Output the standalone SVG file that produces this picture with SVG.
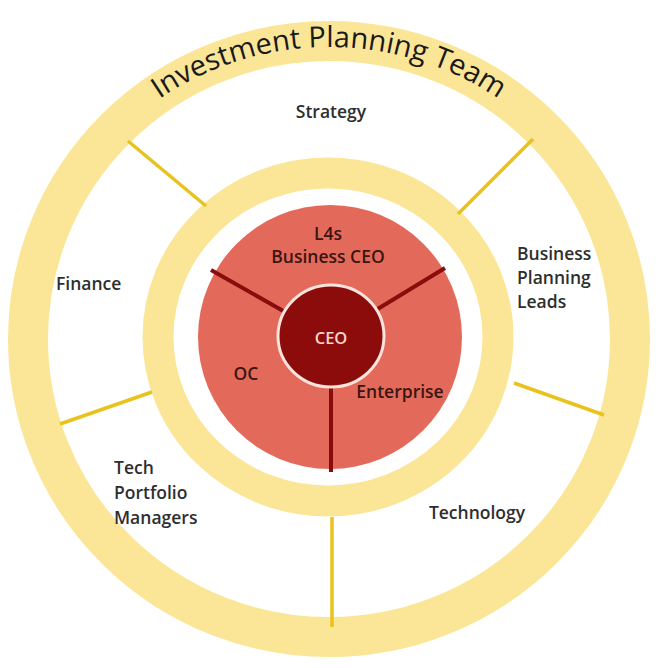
<svg xmlns="http://www.w3.org/2000/svg" width="668" height="668" viewBox="0 0 668 668">
<style>
.lbl{font-family:"Open Sans","Noto Sans","Liberation Sans",sans-serif;font-size:17.5px;font-weight:600;fill:#2e2e2e;}
.inner{font-family:"Open Sans","Noto Sans","Liberation Sans",sans-serif;font-size:17.5px;font-weight:600;fill:#3a1512;}
.ring{fill:none;stroke:#fbe697;}
.yl{stroke:#e9c21c;stroke-width:3.5;stroke-linecap:butt;}
.rl{stroke:#8a0c0c;stroke-width:4;}
</style>
<defs>
<path id="arc" d="M 31 339 A 298 292 0 0 1 627 339"/>
</defs>
<rect width="668" height="668" fill="#ffffff"/>
<g id="outer-ring">
<ellipse class="ring" cx="329" cy="339" rx="301" ry="298" stroke-width="40"/>
<text font-family="'Open Sans','Noto Sans','Liberation Sans',sans-serif" font-size="29" font-weight="500" fill="#1a1a1a"><textPath href="#arc" startOffset="50%" text-anchor="middle">Investment Planning Team</textPath></text>
</g>
<g id="middle-ring">
<ellipse class="ring" cx="328" cy="337" rx="170" ry="164" stroke-width="31"/>
</g>
<g id="connectors">
<line class="yl" x1="128" y1="141" x2="206" y2="206"/>
<line class="yl" x1="533" y1="139" x2="458" y2="214"/>
<line class="yl" x1="514" y1="383" x2="604" y2="415"/>
<line class="yl" x1="152" y1="392" x2="60" y2="424"/>
<line class="yl" x1="332" y1="517" x2="332" y2="627"/>
</g>
<g id="red-circle">
<circle cx="330" cy="337" r="132" fill="#e36a5a"/>
</g>
<g id="red-connectors">
<line class="rl" x1="211" y1="270" x2="285" y2="312"/>
<line class="rl" x1="445" y1="268" x2="376" y2="310"/>
<line class="rl" x1="331" y1="385" x2="331" y2="472"/>
</g>
<g id="ceo">
<ellipse cx="331" cy="336" rx="53" ry="51" fill="#8c0b0b" stroke="#f8e4dc" stroke-width="3"/>
<text x="331" y="344" text-anchor="middle" font-family="'Open Sans','Noto Sans','Liberation Sans',sans-serif" font-size="16.5" font-weight="600" fill="#f6d6cc">CEO</text>
</g>
<g id="l4s">
<text class="inner" x="328" y="240" text-anchor="middle">L4s</text>
<text class="inner" x="328" y="263" text-anchor="middle">Business CEO</text>
</g>
<g id="oc"><text class="inner" x="246" y="380" text-anchor="middle">OC</text></g>
<g id="enterprise"><text class="inner" x="400" y="398" text-anchor="middle">Enterprise</text></g>
<g id="strategy"><text class="lbl" x="331" y="118" text-anchor="middle">Strategy</text></g>
<g id="finance"><text class="lbl" x="56" y="290">Finance</text></g>
<g id="business-planning-leads">
<text class="lbl" x="517" y="260">Business</text>
<text class="lbl" x="517" y="284">Planning</text>
<text class="lbl" x="517" y="308">Leads</text>
</g>
<g id="tech-portfolio-managers">
<text class="lbl" x="114" y="474">Tech</text>
<text class="lbl" x="114" y="499">Portfolio</text>
<text class="lbl" x="114" y="524">Managers</text>
</g>
<g id="technology"><text class="lbl" x="477" y="519" text-anchor="middle">Technology</text></g>
</svg>
